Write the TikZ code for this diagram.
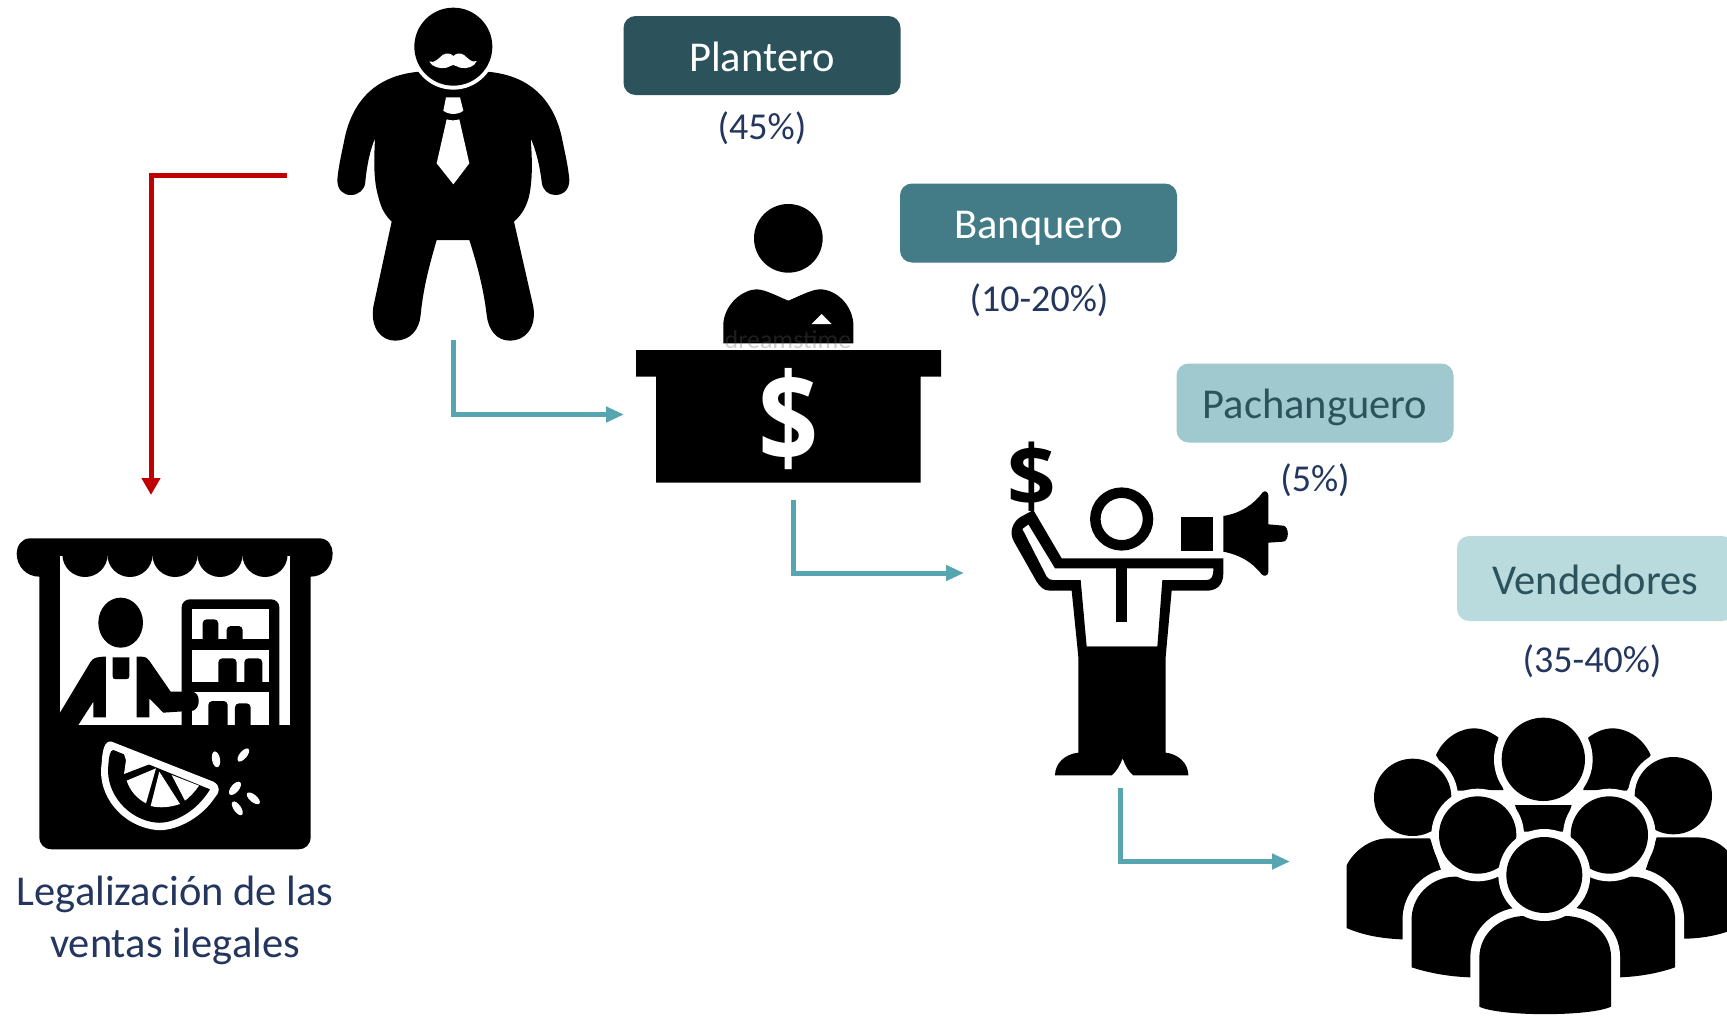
\documentclass[tikz,border=0pt]{standalone}
\usepackage{fontspec}
\setmainfont{Carlito}
\newfontfamily\dollarfont{Open Sans}
\usetikzlibrary{arrows.meta}
\definecolor{cDark}{HTML}{2C525C}
\definecolor{cMid}{HTML}{437C87}
\definecolor{cLight}{HTML}{9FC9CE}
\definecolor{cPale}{HTML}{BADBDD}
\definecolor{cNavy}{HTML}{24365E}
\definecolor{cTeal}{HTML}{56A5B0}
\definecolor{cRed}{HTML}{C00000}
\tikzset{
  lbox/.style={rounded corners=12pt,inner sep=0pt,minimum width=277pt,minimum height=79pt,text height=33pt,text depth=2pt,font=\fontsize{42.5}{48}\selectfont},
  pct/.style={inner sep=0pt,text=cNavy,font=\fontsize{38}{44}\selectfont},
  tealarrow/.style={draw=cTeal,line width=5pt,-{Triangle[length=18pt,width=15pt]}},
  redarrow/.style={draw=cRed,line width=5pt,-{Triangle[length=17pt,width=18pt]}},
  ink/.style={fill=black,draw=none},
  gap/.style={fill=white,draw=none},
  outlined/.style={preaction={draw=white,line width=18pt},fill=black}
}
\begin{document}
\begin{tikzpicture}[x=1pt,y=-1pt]
\useasboundingbox (0,0) rectangle (1727,1015);
\fill[white] (0,0) rectangle (1727,1015);

% ---------- Plantero figure
\begin{scope}[shift={(310,0)},scale=1/3]
\fill[ink] (330,215) .. controls (200,225) and (130,300) .. (105,410) .. controls (95,460) and (85,500) .. (82,540)
  .. controls (82,570) and (100,585) .. (122,585) .. controls (145,585) and (165,570) .. (166,545)
  .. controls (170,500) and (180,450) .. (195,415) .. controls (192,480) and (190,540) .. (205,590) .. controls (213,625) and (225,645) .. (245,665)
  -- (190,920) .. controls (180,985) and (215,1022) .. (255,1022) .. controls (300,1022) and (328,990) .. (332,945)
  .. controls (340,860) and (360,790) .. (380,720) -- (478,720) .. controls (500,790) and (520,860) .. (530,945)
  .. controls (535,990) and (560,1022) .. (600,1022) .. controls (645,1022) and (680,985) .. (670,920)
  -- (612,665) .. controls (640,640) and (650,615) .. (657,590) .. controls (668,540) and (667,480) .. (662,415)
  .. controls (678,450) and (690,500) .. (695,545) .. controls (697,570) and (715,585) .. (735,585) .. controls (760,585) and (778,570) .. (778,540)
  .. controls (775,500) and (765,460) .. (755,410) .. controls (730,300) and (660,225) .. (530,215) -- cycle;
\fill[gap] (430,140) circle (129pt);
\fill[ink] (430,140) circle (117pt);
\fill[gap] (358,185) .. controls (375,190) and (385,175) .. (398,165) .. controls (410,157) and (422,160) .. (430,168)
  .. controls (438,160) and (450,157) .. (462,165) .. controls (475,175) and (485,190) .. (500,183)
  .. controls (495,200) and (470,208) .. (450,203) .. controls (440,200) and (435,195) .. (430,195)
  .. controls (425,195) and (420,200) .. (410,203) .. controls (390,208) and (365,200) .. (358,185) -- cycle;
\fill[gap] (408,292) -- (450,292) -- (460,332) .. controls (445,345) and (415,345) .. (400,332) -- cycle;
\fill[gap] (410,358) .. controls (420,362) and (438,362) .. (448,358) -- (478,490) -- (430,553) -- (380,490) -- cycle;
\end{scope}

% ---------- Banquero figure
\begin{scope}[shift={(620,190)},scale=1/3]
\fill[ink] (505,145) circle (103pt);
\fill[ink] (310,460) -- (310,400) .. controls (315,340) and (370,298) .. (410,298) .. controls (435,298) and (475,320) .. (505,332)
  .. controls (535,320) and (575,298) .. (600,298) .. controls (645,298) and (695,340) .. (700,400) -- (700,460) -- cycle;
\fill[gap] (575,402) -- (605,372) -- (635,402) -- cycle;
\fill[ink] (48,480) -- (963,480) -- (963,560) -- (902,560) -- (902,878) -- (108,878) -- (108,560) -- (48,560) -- cycle;
\end{scope}
\node[text=white,inner sep=0pt,xscale=.85,font=\dollarfont\bfseries\fontsize{124}{130}\selectfont] (bankdollar) at (789,419) {\$};
\node[text=black!60,text opacity=.3,inner sep=0pt,font=\fontsize{26}{28}\selectfont] (watermark) at (788,340) {dreamstime};

% ---------- Pachanguero figure
\begin{scope}[shift={(990,430)},scale=1/3]
\draw[line width=10.5pt] (395,267) circle (79pt);
\fill[ink,even odd rule] (130,240) -- (215,385) -- (700,385) -- (700,430) .. controls (700,465) and (680,482) .. (650,482)
  -- (545,482) -- (527,680) -- (265,680) -- (245,482) -- (180,482) .. controls (160,482) and (150,470) .. (140,455)
  -- (72,335) .. controls (55,305) and (70,275) .. (90,262) -- cycle
  (115,283) -- (97,297) -- (170,440) .. controls (175,448) and (180,450) .. (190,450) -- (272,450) -- (290,650) -- (502,650) -- (517,450)
  -- (650,450) .. controls (665,450) and (670,440) .. (670,415) -- (195,415) -- cycle;
\fill[ink] (378,415) rectangle (412,575);
\fill[ink] (265,650) -- (527,650) -- (527,968) .. controls (565,972) and (595,1000) .. (595,1036) -- (430,1036) .. controls (415,1025) and (405,1005) .. (398,985)
  .. controls (390,1005) and (380,1025) .. (365,1036) -- (195,1036) .. controls (195,1000) and (225,972) .. (265,968) -- cycle;
\fill[ink] (572,262) rectangle (668,362);
\fill[ink] (700,258) .. controls (750,250) and (790,225) .. (818,187) .. controls (825,180) and (835,185) .. (835,197) -- (835,283)
  -- (880,287) .. controls (898,290) and (898,332) .. (880,335) -- (835,338) -- (835,425) .. controls (835,438) and (822,440) .. (815,433)
  .. controls (785,395) and (750,375) .. (700,365) -- cycle;
\end{scope}
\node[text=black,inner sep=0pt,font=\dollarfont\bfseries\fontsize{85}{90}\selectfont] (pachdollar) at (1032,477) {\$};

% ---------- Stall figure
\begin{scope}[shift={(0,520)},scale=1/3]
\fill[ink] (90,55) -- (958,55) .. controls (985,55) and (998,78) .. (998,100) .. controls (998,140) and (970,170) .. (932,170) -- (932,950)
  .. controls (932,975) and (915,988) .. (895,988) -- (155,988) .. controls (135,988) and (118,975) .. (118,950) -- (118,170)
  .. controls (80,170) and (50,140) .. (50,100) .. controls (50,78) and (65,55) .. (90,55) -- cycle;
\fill[gap] (180,108) rectangle (870,615);
\fill[ink] (170,60) rectangle (880,108);
\begin{scope}
\clip (170,60) rectangle (880,180);
\foreach \cx in {255,390,525,660,795} {\fill[ink] (\cx,103) circle (68pt);}
\end{scope}
% man
\fill[ink] (362,308) ellipse [x radius=67pt,y radius=75pt];
\fill[ink] (180,578) -- (272,425) .. controls (280,412) and (295,410) .. (318,410) -- (318,592) -- (280,592) -- (280,545) -- (235,615) -- (180,625) -- cycle;
\fill[ink] (338,412) -- (388,412) -- (388,468) .. controls (388,475) and (385,477) .. (380,477) -- (346,477) .. controls (340,477) and (338,475) .. (338,468) -- cycle;
% shelf
\fill[ink,rounded corners=8pt] (545,238) rectangle (838,640);
\fill[gap] (575,268) rectangle (808,358);
\fill[gap] (575,390) rectangle (808,485);
\fill[gap] (575,515) rectangle (808,615);
\fill[ink,rounded corners=4pt] (608,298) -- (655,298) -- (655,370) -- (608,370) -- cycle;
\fill[ink,rounded corners=4pt] (680,318) -- (728,318) -- (728,370) -- (680,370) -- cycle;
\fill[ink,rounded corners=4pt] (655,415) -- (710,415) -- (710,500) -- (655,500) -- cycle;
\fill[ink,rounded corners=4pt] (733,415) -- (787,415) -- (787,500) -- (733,500) -- cycle;
\fill[ink,rounded corners=4pt] (625,543) -- (683,543) -- (683,630) -- (625,630) -- cycle;
\fill[ink,rounded corners=4pt] (705,550) -- (752,550) -- (752,630) -- (705,630) -- cycle;
% right arm over shelf
\fill[ink] (410,410) -- (425,410) .. controls (440,410) and (445,418) .. (452,428) -- (512,515) -- (575,515) .. controls (600,515) and (605,560) .. (580,572)
  -- (490,578) -- (448,535) -- (448,592) -- (410,592) -- cycle;
% lemon
\fill[gap] (335,665) -- (640,785) .. controls (662,797) and (660,818) .. (645,832) .. controls (600,900) and (520,935) .. (470,930)
  .. controls (370,920) and (290,830) .. (305,730) .. controls (307,695) and (312,660) .. (335,665) -- cycle;
\fill[ink] (340,690) -- (630,808) .. controls (590,875) and (520,912) .. (470,908) .. controls (385,900) and (315,820) .. (325,735) .. controls (327,710) and (330,690) .. (340,690) -- cycle;
\fill[gap] (372,702) -- (378,720) -- (372,762) -- (455,730) -- (372,702) -- cycle;
\fill[gap] (380,782) -- (468,745) -- (438,850) .. controls (410,835) and (390,812) .. (380,782) -- cycle;
\fill[gap] (478,755) -- (540,852) .. controls (510,862) and (480,865) .. (452,858) -- cycle;
\fill[gap] (515,765) -- (597,797) .. controls (585,815) and (570,830) .. (555,842) -- cycle;
% seeds
\fill[gap,rotate around={10:(648,718)}] (648,718) ellipse [x radius=12pt,y radius=24pt];
\fill[gap,rotate around={-40:(730,705)}] (730,705) ellipse [x radius=11pt,y radius=24pt];
\fill[gap,rotate around={-40:(705,805)}] (705,805) ellipse [x radius=12pt,y radius=24pt];
\fill[gap,rotate around={50:(760,835)}] (760,835) ellipse [x radius=11pt,y radius=24pt];
\fill[gap,rotate around={35:(712,865)}] (712,865) ellipse [x radius=11pt,y radius=24pt];
\end{scope}

% ---------- Crowd figure
\begin{scope}[shift={(1330,700)},scale=1/3]
\clip (50,0) rectangle (1191,945);
% back row
\fill[ink] (318,165) .. controls (345,105) and (400,85) .. (430,85) .. controls (460,85) and (480,95) .. (505,112) -- (520,270) -- (380,272) -- cycle;
\fill[ink] (962,165) .. controls (935,105) and (880,85) .. (850,85) .. controls (820,85) and (800,95) .. (775,112) -- (760,270) -- (890,272) -- cycle;
\fill[gap] (640,178) circle (148pt);
\fill[ink] (640,178) circle (125pt);
% side people
\fill[gap] (248,292) circle (136pt);
\fill[gap] (1030,287) circle (136pt);
\fill[ink] (248,292) circle (116pt);
\fill[ink] (1030,287) circle (116pt);
\fill[ink] (30,675) -- (30,560) .. controls (40,470) and (110,415) .. (175,415) -- (300,415) -- (340,530) -- (300,720) -- (213,718) .. controls (150,715) and (90,705) .. (30,675) -- cycle;
\fill[ink] (1240,675) -- (1240,560) .. controls (1230,470) and (1170,412) .. (1100,412) -- (980,412) -- (940,530) -- (980,720) -- (1065,716) .. controls (1120,715) and (1180,705) .. (1240,675) -- cycle;
% middle body
\fill[ink] (555,315) -- (725,315) -- (700,395) -- (580,395) -- cycle;
% middle people
\path[outlined] (245,802) -- (245,650) .. controls (250,580) and (310,530) .. (375,530) -- (600,530) -- (600,840) -- (420,832) .. controls (360,830) and (300,820) .. (245,802) -- cycle;
\path[outlined] (1035,802) -- (1035,650) .. controls (1030,580) and (970,530) .. (905,530) -- (680,530) -- (680,840) -- (870,832) .. controls (925,830) and (985,820) .. (1035,802) -- cycle;
\fill[gap] (443,405) circle (139pt);
\fill[gap] (838,405) circle (139pt);
\fill[ink] (443,405) circle (116pt);
\fill[ink] (838,405) circle (116pt);
% front person
\path[outlined] (448,920) -- (448,770) .. controls (450,700) and (510,648) .. (585,648) -- (705,648) .. controls (780,648) and (843,700) .. (843,770) -- (843,920) .. controls (780,950) and (510,950) .. (448,920) -- cycle;
\fill[gap] (643,525) circle (138pt);
\fill[ink] (643,525) circle (114pt);
\end{scope}

% ---------- Role boxes
\node[lbox,fill=cDark,text=white] (plantero) at (762,55.5) {Plantero};
\node[lbox,fill=cMid,text=white] (banquero) at (1038.5,223) {Banquero};
\node[lbox,fill=cLight,text=cDark] (pachanguero) at (1315,403) {Pachanguero};
\node[lbox,fill=cPale,text=cDark,minimum height=85pt] (vendedores) at (1595.5,578.5) {Vendedores};
\node[pct] (p1) at (762,128) {(45\%)};
\node[pct] (p2) at (1039,300) {(10-20\%)};
\node[pct] (p3) at (1315,480) {(5\%)};
\node[pct] (p4) at (1592,661) {(35-40\%)};
\node[pct,align=center,font=\fontsize{42.5}{52}\selectfont] (legal) at (175,920) {Legalización de las\\ventas ilegales};

% ---------- Connectors
\coordinate (redS) at (287,175);
\coordinate (redE) at (151,495);
\coordinate (t1S) at (453,340);
\coordinate (t1E) at (624,414.5);
\coordinate (t2S) at (793,500);
\coordinate (t2E) at (964,573);
\coordinate (t3S) at (1120,788);
\coordinate (t3E) at (1290,861.5);
\draw[redarrow] (redS) -| (redE);
\draw[tealarrow] (t1S) |- (t1E);
\draw[tealarrow] (t2S) |- (t2E);
\draw[tealarrow] (t3S) |- (t3E);
\end{tikzpicture}
\end{document}
